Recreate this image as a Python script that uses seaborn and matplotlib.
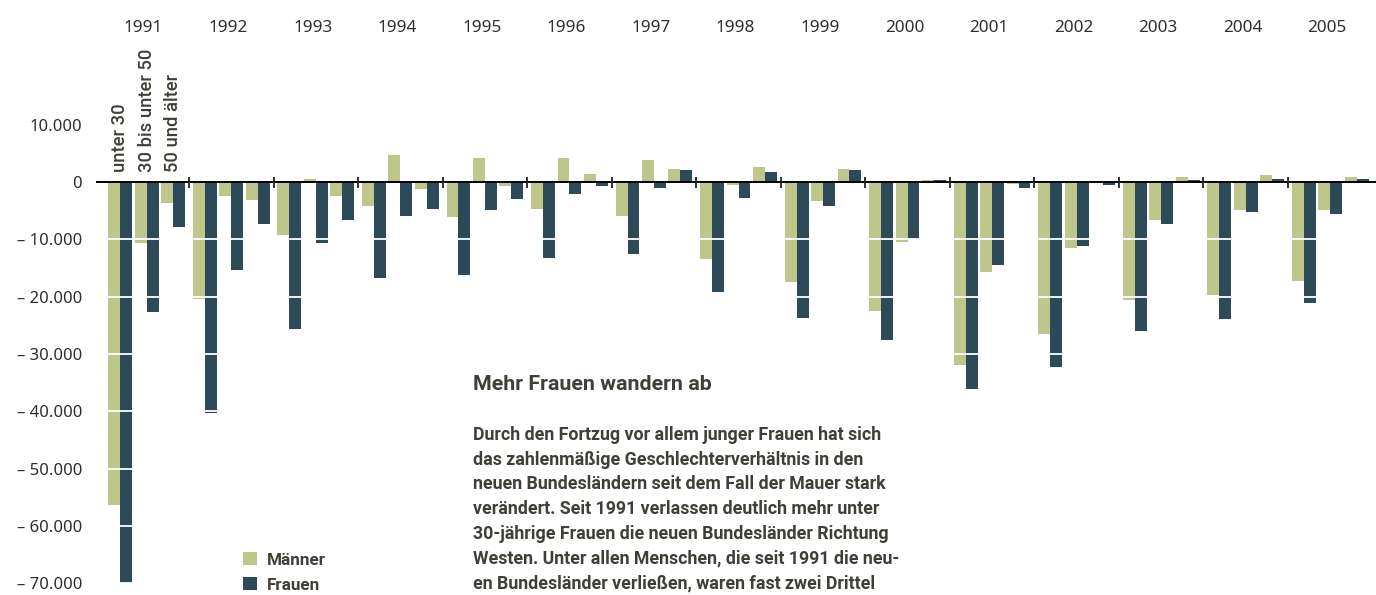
import numpy as np
import pandas as pd
import seaborn as sns
import matplotlib.pyplot as plt

# Wanderungssaldo neue Bundesländer nach Alter und Geschlecht
jahre = [1991, 1992, 1993, 1994, 1995, 1996, 1997, 1998, 1999, 2000,
         2001, 2002, 2003, 2004, 2005]
altersgruppen = ["unter 30", "30 bis unter 50", "50 und älter"]

maenner_u30 = [-56300, -20300, -9140, -4080, -6060, -4660, -5880, -13390,
               -17400, -22460, -31880, -26480, -20540, -19670, -17230]
frauen_u30 = [-69900, -40200, -25550, -16650, -16120, -13210, -12510, -19150,
              -23680, -27560, -36070, -32230, -25950, -23860, -21070]
maenner_30_50 = [-10540, -2340, 580, 4760, 4240, 4240, 3890, -470,
                 -3260, -10420, -15650, -11470, -6580, -4830, -4830]
frauen_30_50 = [-22580, -15250, -10540, -5830, -4830, -2040, -990, -2740,
                -4140, -9950, -14430, -11120, -7280, -5180, -5530]
maenner_50 = [-3560, -3030, -2340, -1120, -590, 1450, 2320, 2670,
              2320, 400, -300, 200, 920, 1270, 920]
frauen_50 = [-7750, -7220, -6530, -4610, -2910, -650, 2150, 1800,
             2150, 400, -990, -470, 400, 580, 580]

werte = {
    ("unter 30", "Männer"): maenner_u30,
    ("unter 30", "Frauen"): frauen_u30,
    ("30 bis unter 50", "Männer"): maenner_30_50,
    ("30 bis unter 50", "Frauen"): frauen_30_50,
    ("50 und älter", "Männer"): maenner_50,
    ("50 und älter", "Frauen"): frauen_50,
}

JAHR_ABSTAND = 3.2  # Abstand zwischen den Jahresblöcken (in Altersgruppen-Einheiten)

zeilen = []
for (alter, geschlecht), reihe in werte.items():
    a = altersgruppen.index(alter)
    for j, jahr in enumerate(jahre):
        zeilen.append({"pos": j * JAHR_ABSTAND + a, "Jahr": jahr, "Alter": alter,
                       "Geschlecht": geschlecht, "Saldo": reihe[j]})
df = pd.DataFrame(zeilen)

farben = {"Männer": "#bec68c", "Frauen": "#2e4a58"}
text_farbe = "#3f3f37"

sns.set_theme(style="white")
plt.rcParams["font.family"] = ["Noto Sans", "DejaVu Sans"]

fig = plt.figure(figsize=(13.76, 5.95), dpi=100)
ax = fig.add_axes([96 / 1376, 0, 1 - 96 / 1376, 1])

sns.barplot(data=df, x="pos", y="Saldo", hue="Geschlecht", hue_order=["Männer", "Frauen"],
            palette=farben, native_scale=True, width=0.9, errorbar=None,
            linewidth=0, saturation=1, ax=ax)

ax.set_xlim(-0.92, 47.53)
ax.set_ylim(-72050, 31800)
sns.despine(ax=ax, left=True, bottom=True)
ax.set_xticks([])
ax.set_xlabel("")
ax.set_ylabel("")

# y-Achse
yt = np.arange(-70000, 10001, 10000)
ax.set_yticks(yt)
ax.set_yticklabels([("\u2013 " + f"{abs(v):,}".replace(",", ".")) if v < 0 else f"{v:,}".replace(",", ".")
                    for v in yt], fontsize=12, color="#2f2f2f")
ax.tick_params(axis="y", length=0, pad=10)

# weiße Rasterlinien über den Balken
for v in yt[yt < 0]:
    ax.axhline(v, color="white", lw=1.3, zorder=5)

# Nulllinie und Jahrestrenner
ax.axhline(0, color="black", lw=1.4, zorder=6)
grenzen = [j * JAHR_ABSTAND + 2.6 for j in range(len(jahre) - 1)]
ax.vlines(grenzen, -950, 950, color="#222222", lw=1.3, zorder=6)

# Jahreszahlen oben
for j, jahr in enumerate(jahre):
    ax.text(j * JAHR_ABSTAND + 0.88, 26900, str(jahr), ha="center", va="center",
            fontsize=12.3, color="#2f2f2f")

# Altersgruppen-Beschriftung (nur 1991)
for a, alter in enumerate(altersgruppen):
    ax.text(a, 1700, alter, rotation=90, ha="center", va="bottom",
            fontsize=13.2, color=text_farbe, family=["Roboto", "DejaVu Sans"], fontweight="medium")

# Legende
sns.move_legend(ax, "upper left", bbox_to_anchor=(228 / 1376, 1 - 537 / 595),
                bbox_transform=fig.transFigure, frameon=False, title=None,
                handlelength=0.8, handleheight=0.8, handletextpad=0.6, labelspacing=0.55,
                prop={"family": "Roboto", "weight": "bold", "size": 12.3})
for t in ax.get_legend().get_texts():
    t.set_color(text_farbe)

# Textblock
fig.text(473 / 1376, 1 - 385 / 595, "Mehr Frauen wandern ab", ha="left", va="center",
         fontsize=15.4, fontweight="bold", family="Roboto", color=text_farbe)
fliesstext = ("Durch den Fortzug vor allem junger Frauen hat sich\n"
              "das zahlenmäßige Geschlechterverhältnis in den\n"
              "neuen Bundesländern seit dem Fall der Mauer stark\n"
              "verändert. Seit 1991 verlassen deutlich mehr unter\n"
              "30-jährige Frauen die neuen Bundesländer Richtung\n"
              "Westen. Unter allen Menschen, die seit 1991 die neu-\n"
              "en Bundesländer verließen, waren fast zwei Drittel")
fig.text(473 / 1376, 1 - 426 / 595, fliesstext, ha="left", va="top", fontsize=12.8,
         fontweight="bold", family="Roboto", color=text_farbe, linespacing=1.48)

fig.savefig("out.png", dpi=100)
